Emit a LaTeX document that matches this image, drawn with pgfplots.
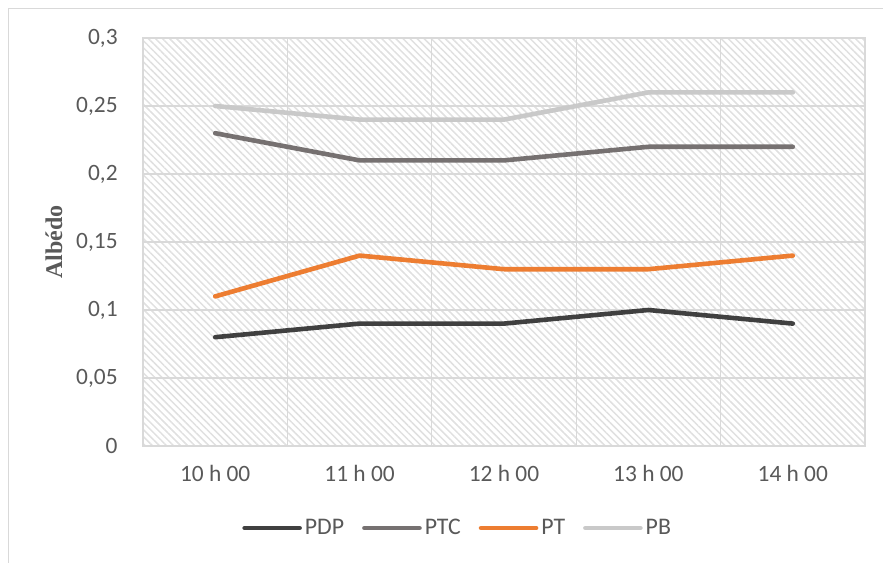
\documentclass[border=0pt]{standalone}
\usepackage{pgfplots}
\pgfplotsset{compat=1.18}
\usepackage{fontspec}
\setmainfont{Carlito}
\newfontfamily\serifbold{Liberation Serif}
\usetikzlibrary{patterns.meta}
\definecolor{cPDP}{HTML}{404040}
\definecolor{cPTC}{HTML}{767171}
\definecolor{cPT}{HTML}{ED7D31}
\definecolor{cPB}{HTML}{C9C9C9}
\definecolor{gridc}{HTML}{D9D9D9}
\definecolor{hatch}{HTML}{E0E0E0}
\definecolor{txt}{HTML}{595959}
\begin{document}
\begin{tikzpicture}
\useasboundingbox (0,0) rectangle (441.5pt,281pt);
\draw[gridc, line width=0.6pt] (4.25pt,-5pt) -- (4.25pt,276.75pt) -- (450pt,276.75pt);
\begin{axis}[
  at={(71.5pt,58pt)}, anchor=south west,
  scale only axis, width=361pt, height=204pt,
  xmin=-0.5, xmax=4.5, ymin=0, ymax=0.3,
  xtick={0,1,2,3,4},
  xticklabels={10 h 00,11 h 00,12 h 00,13 h 00,14 h 00},
  minor xtick={-0.5,0.5,1.5,2.5,3.5,4.5},
  ytick={0,0.05,0.1,0.15,0.2,0.25,0.3},
  yticklabels={0,{0,05},{0,1},{0,15},{0,2},{0,25},{0,3}},
  xminorgrids, ymajorgrids,
  major tick length=0pt, minor tick length=0pt,
  grid style={gridc, line width=0.6pt},
  minor grid style={gridc, line width=0.6pt},
  axis line style={gridc, line width=0.6pt},
  axis background/.style={pattern={Lines[angle=-45,distance=2.5pt,line width=0.75pt]}, pattern color=hatch},
  tick label style={font=\fontsize{11.7}{14}\selectfont, text=txt},
  yticklabel style={inner sep=0pt, anchor=east, xshift=-12.5pt},
  xticklabel style={inner sep=0pt, anchor=north, yshift=-9.5pt},
  legend style={at={(0.4365,-0.201)}, anchor=center, draw=none, fill=none,
    font=\fontsize{11.9}{14}\selectfont, text=txt,
    legend columns=4,
    /tikz/every even column/.append style={column sep=7.5pt},
    nodes={inner sep=1.5pt}},
  legend image code/.code={\draw[#1, line width=2.3pt, line cap=round] (0pt,0pt) -- (27.5pt,0pt);},
  every axis plot/.append style={line width=2.3pt, line cap=round, line join=round, mark=none},
  clip=false,
]
\addplot[cPDP] coordinates {(0,0.08) (1,0.09) (2,0.09) (3,0.10) (4,0.09)};
\addlegendentry{PDP}
\addplot[cPTC] coordinates {(0,0.23) (1,0.21) (2,0.21) (3,0.22) (4,0.22)};
\addlegendentry{PTC}
\addplot[cPT] coordinates {(0,0.11) (1,0.14) (2,0.13) (3,0.13) (4,0.14)};
\addlegendentry{PT}
\addplot[cPB] coordinates {(0,0.25) (1,0.24) (2,0.24) (3,0.26) (4,0.26)};
\addlegendentry{PB}
\node[rotate=90, anchor=center, text=txt, font=\serifbold\bfseries\fontsize{12}{14}\selectfont] at ([xshift=-44.5pt]rel axis cs:0,0.5) {Albédo};
\end{axis}
\end{tikzpicture}
\end{document}
